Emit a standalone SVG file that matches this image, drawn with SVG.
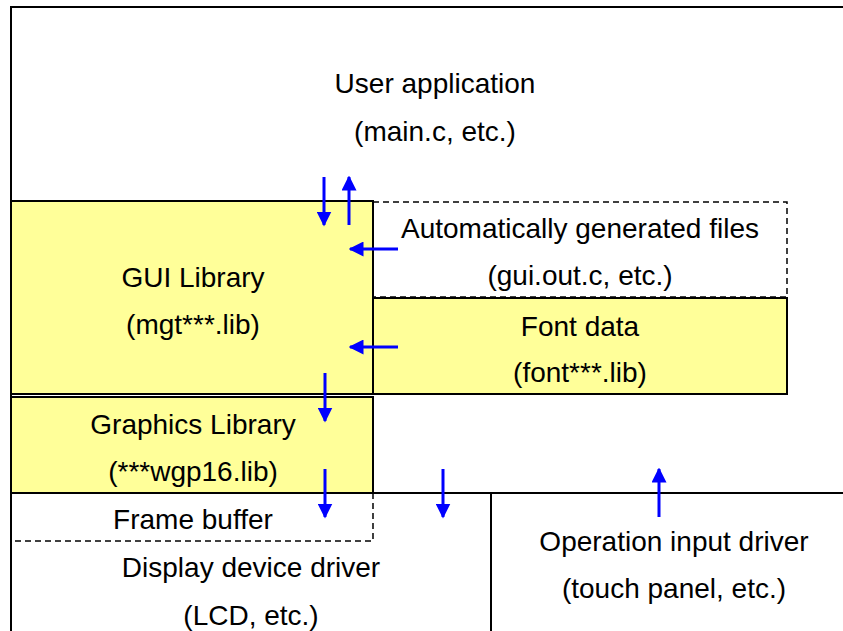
<svg xmlns="http://www.w3.org/2000/svg" width="843" height="631" viewBox="0 0 843 631">
<defs>
<style>
text{font-family:"Liberation Sans",Arial,sans-serif;font-size:28px;fill:#000;text-anchor:middle}
.box{stroke:#000;stroke-width:2}
.lib{fill:#FFFF99}
.dash{fill:none;stroke:#000;stroke-width:1.5;stroke-dasharray:6 4}
.ln{stroke:#000;stroke-width:2;fill:none}
.arr{stroke:#0000FF;stroke-width:3;fill:none;marker-end:url(#ah)}
</style>
<marker id="ah" viewBox="0 0 10 10" refX="9" refY="5" markerWidth="5" markerHeight="5" orient="auto" markerUnits="strokeWidth">
<path d="M0,0 L10,5 L0,10 z" fill="#0000FF"/>
</marker>
</defs>
<rect width="843" height="631" fill="#fff"/>
<g id="user-app">
<path class="ln" d="M11,631 V7 H843"/>
<text x="435" y="93">User application</text>
<text x="435" y="141">(main.c, etc.)</text>
</g>
<g id="gui-lib">
<rect class="box lib" x="11" y="201" width="362" height="193"/>
<text x="193" y="287">GUI Library</text>
<text x="193" y="334">(mgt***.lib)</text>
</g>
<g id="auto-files">
<rect class="dash" x="373" y="202" width="414" height="95"/>
<text x="580" y="238">Automatically generated files</text>
<text x="580" y="285">(gui.out.c, etc.)</text>
</g>
<g id="font-data">
<rect class="box lib" x="373" y="298" width="414" height="96"/>
<text x="580" y="336">Font data</text>
<text x="580" y="382">(font***.lib)</text>
</g>
<g id="graphics-lib">
<rect class="box lib" x="11" y="397" width="362" height="96"/>
<text x="193" y="434">Graphics Library</text>
<text x="193" y="481">(***wgp16.lib)</text>
</g>
<g id="display-driver">
<path class="ln" d="M11,493 H843"/>
<text x="251" y="577">Display device driver</text>
<text x="251" y="625">(LCD, etc.)</text>
</g>
<g id="frame-buffer">
<path class="dash" d="M373,493 V541 H11"/>
<text x="193" y="529">Frame buffer</text>
</g>
<g id="input-driver">
<path class="ln" d="M491,493 V631"/>
<text x="674" y="551">Operation input driver</text>
<text x="674" y="598">(touch panel, etc.)</text>
</g>
<g id="connectors">
<path class="arr" d="M324,177 V225"/>
<path class="arr" d="M349,225 V177"/>
<path class="arr" d="M398,249 H350"/>
<path class="arr" d="M398,347 H350"/>
<path class="arr" d="M325,373 V421"/>
<path class="arr" d="M325,469 V517"/>
<path class="arr" d="M443,469 V517"/>
<path class="arr" d="M659,517 V469"/>
</g>
</svg>
